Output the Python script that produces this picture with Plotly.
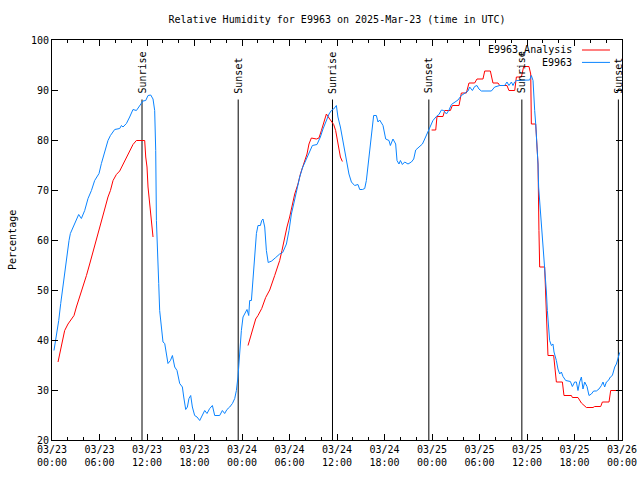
import pandas as pd
import plotly.graph_objects as go

# ---- data (hours after 2025-03-23 00:00 UTC, relative humidity %) ----
obs_hours = [0.25, 0.56, 0.85, 1.10, 1.31, 1.60, 1.89, 2.15, 2.32, 2.65, 3.08, 3.37, 3.71, 4.13, 4.55, 4.98,
             5.39, 5.94, 6.24, 6.66, 7.07, 7.38, 7.92, 8.55, 8.77, 8.97, 9.40, 9.81, 10.23, 10.66, 11.08,
             11.49, 11.84, 12.13, 12.47, 12.76, 12.97, 13.10, 13.19, 13.31, 13.48, 13.60, 13.82, 14.02,
             14.24, 14.45, 14.65, 14.96, 15.21, 15.50, 15.79, 16.13, 16.47, 16.64, 16.89, 17.10, 17.30,
             17.52, 17.73, 18.02, 18.32, 18.66, 19.00, 19.29, 19.58, 19.92, 20.26, 20.55, 21.18, 21.52,
             21.81, 22.10, 22.45, 22.79, 23.08, 23.29, 23.49, 23.62, 23.80, 23.92, 24.13, 24.47, 24.63,
             24.85, 24.97, 25.19, 25.39, 25.60, 25.82, 26.02, 26.32, 26.49, 26.65, 26.87, 27.08, 27.31,
             27.75, 28.26, 28.76, 29.14, 29.61, 29.94, 30.24, 30.53, 30.87, 31.29, 31.63, 32.05, 32.46,
             32.89, 33.47, 33.90, 34.23, 34.66, 34.99, 35.29, 35.58, 35.92, 36.12, 36.43, 36.68, 36.97,
             37.26, 37.51, 37.82, 38.23, 38.65, 38.87, 39.21, 39.50, 39.71, 40.04, 40.34, 40.63, 40.97,
             41.18, 41.39, 41.81, 42.15, 42.57, 42.74, 43.07, 43.41, 43.58, 43.83, 44.01, 44.26, 44.55,
             44.97, 45.40, 45.69, 45.94, 46.36, 46.79, 47.08, 47.37, 47.62, 47.84, 48.12, 48.55, 48.88,
             49.19, 49.48, 49.82, 50.15, 50.45, 50.87, 51.28, 51.71, 52.13, 52.55, 52.76, 53.10, 53.39,
             53.68, 53.93, 54.24, 55.50, 55.92, 56.55, 57.18, 57.47, 57.72, 58.03, 58.23, 58.44, 58.66,
             60.34, 60.55, 60.76, 60.84, 60.97, 61.10, 61.26, 61.39, 61.47, 61.69, 61.82, 62.02, 62.14,
             62.23, 62.36, 62.45, 62.57, 62.70, 62.86, 63.08, 63.28, 63.41, 63.71, 63.91, 64.13, 64.34,
             64.55, 64.89, 65.48, 65.73, 66.02, 66.24, 66.44, 66.65, 66.87, 67.07, 67.29, 67.58, 67.83,
             68.13, 68.42, 68.76, 69.09, 69.40, 69.60, 69.81, 70.03, 70.28, 70.53, 70.78, 71.08, 71.29,
             71.49, 71.71]
obs_rh = [37.9, 40.9, 43.9, 47.3, 49.8, 53.9, 56.3, 59.9, 61.3, 62.6, 63.9, 65.1, 64.3, 65.9, 68.3, 69.9,
          71.9, 73.3, 75.3, 77.6, 79.9, 80.9, 82.1, 82.3, 82.9, 82.6, 83.3, 84.6, 86.1, 85.9, 86.9,
          87.8, 87.9, 88.9, 89.0, 88.2, 85.9, 77.9, 63.9, 57.0, 51.3, 45.9, 41.9, 39.6,
          39.3, 37.3, 35.3, 35.9, 36.9, 34.6, 33.9, 31.3, 30.6, 28.6, 26.1, 26.6, 28.3,
          28.9, 26.6, 24.9, 24.6, 23.9, 24.9, 25.9, 25.3, 26.3, 26.9, 24.9, 24.9, 25.9,
          25.3, 26.1, 26.6, 27.3, 28.3, 29.9, 32.6, 35.9, 38.6, 41.9, 44.6, 45.6, 46.1,
          44.9, 47.9, 47.9, 52.6, 57.3, 61.3, 62.9, 62.9, 63.9, 64.2, 62.6, 57.9, 55.5,
          55.8, 56.5, 57.2, 57.5, 59.2, 61.9, 65.2, 67.2, 69.9, 72.6, 74.4, 75.9, 77.2,
          78.9, 79.1, 80.6, 82.2, 84.0, 85.2, 85.9, 86.2, 86.9, 84.6, 82.6, 80.6, 78.2,
          75.9, 73.2, 71.6, 70.9, 71.1, 70.1, 70.1, 70.3, 71.9, 76.6, 81.9, 84.9, 84.9,
          83.6, 84.0, 82.9, 80.2, 79.9, 78.9, 80.2, 79.2, 75.9, 75.2, 75.9, 75.1, 75.6,
          75.2, 75.6, 76.2, 78.0, 78.6, 79.2, 80.2, 81.2, 82.2, 82.6, 83.9, 84.7, 85.1,
          86.0, 85.9, 85.2, 86.0, 87.1, 87.6, 88.0, 88.9, 89.4, 89.8, 90.6, 89.9, 90.7,
          90.9, 90.2, 89.8, 89.8, 90.6, 90.9, 90.9, 91.6, 90.9, 91.6, 90.9, 91.6, 91.9,
          92.0, 92.9, 91.9, 88.6, 85.9, 83.2, 78.9, 75.2, 70.6, 65.9, 63.2, 60.6, 58.2,
          55.9, 52.6, 49.6, 45.9, 42.6, 39.9, 38.9, 39.2, 37.6, 35.9, 34.2, 33.2, 33.6,
          32.7, 31.9, 31.7, 30.7, 31.6, 31.6, 29.9, 31.6, 32.6, 30.2, 31.6, 30.7, 28.9,
          29.2, 29.8, 29.8, 30.2, 30.9, 31.6, 30.6, 31.6, 31.9, 32.6, 32.9, 34.6, 35.2,
          36.6, 37.5]

ana1_hours = [0.76, 0.97, 1.31, 1.60, 2.02, 2.45, 2.78, 3.08, 3.50, 3.92, 4.35, 4.76, 5.18, 5.61, 6.03,
              6.40, 6.66, 7.07, 7.38, 7.71, 8.13, 8.55, 8.97, 9.40, 9.81, 10.23, 10.66, 11.71, 11.84,
              12.00, 12.13, 12.34, 12.56, 12.76]
ana1_rh = [35.6, 37.3, 39.6, 41.9, 43.2, 44.2, 44.9, 46.6, 48.6, 50.9, 52.9, 55.2, 57.6, 59.9, 62.2,
           64.2, 66.2, 68.6, 69.9, 71.9, 73.1, 73.8, 75.2, 76.6, 77.9, 79.1, 79.9, 79.9, 76.6,
           74.6, 70.6, 67.2, 63.9, 60.6]
ana2_hours = [24.76, 25.06, 25.39, 25.73, 26.02, 26.49, 26.99, 27.50, 28.13, 28.76, 29.05, 29.39, 29.68,
              30.02, 30.37, 30.66, 31.07, 31.38, 31.79, 32.21, 32.46, 32.76, 33.40, 33.72, 34.03, 34.32,
              34.66, 34.99, 35.29, 35.58, 35.83, 36.00, 36.25, 36.43, 36.68]
ana2_rh = [38.9, 40.6, 42.6, 44.2, 44.9, 46.3, 48.5, 50.0, 52.9, 55.9, 57.9, 60.6, 62.6,
           64.6, 67.2, 69.2, 71.2, 73.2, 75.2, 77.2, 79.2, 80.4, 80.2, 80.4, 81.9, 83.6,
           85.2, 84.4, 83.8, 83.1, 81.9, 80.2, 77.9, 76.6, 75.7]
ana3_hours = [47.95, 48.47, 48.63, 49.39, 49.60, 50.32, 50.57, 51.41, 51.71, 52.34, 52.67, 53.39, 53.68,
              54.44, 54.66, 55.37, 55.70, 56.34, 56.55, 57.47, 57.72, 58.45, 58.66, 59.29, 59.58, 60.25,
              60.47, 60.55, 61.10, 61.39, 61.51, 61.60, 62.23, 62.57, 62.65, 63.37, 63.59, 63.71, 64.47,
              64.67, 65.61, 65.73, 66.44, 66.87, 67.50, 68.34, 68.55, 69.31, 69.52, 70.36, 70.57, 71.71]
ana3_rh = [82.0, 82.0, 84.7, 84.7, 85.9, 85.9, 86.9, 86.9, 89.4, 89.4, 91.4, 91.4, 92.2,
           92.2, 93.8, 93.8, 91.4, 91.4, 90.9, 90.9, 89.9, 89.9, 92.6, 92.6, 94.7, 94.7,
           93.2, 83.2, 83.2, 75.2, 61.9, 54.6, 54.6, 41.2, 36.9, 36.9, 32.9, 31.6, 31.6,
           28.9, 28.9, 28.5, 28.5, 27.4, 26.5, 26.5, 26.7, 26.7, 27.6, 27.6, 29.9, 29.9]

sun_events = ["Sunrise", "Sunset", "Sunrise", "Sunset", "Sunrise", "Sunset"]
sun_hours = [11.37, 23.52, 35.43, 47.60, 59.35, 71.54]
sun_line_top = 88.1

series_names = ["E9963\u2423Analysis", "E9963"]
series_colors = ["#ff0000", "#0a84ff"]

base = pd.Timestamp("2025-03-23 00:00")


def to_time(hours):
    return [base + pd.Timedelta(hours=h) if h is not None else None for h in hours]


ana_hours = ana1_hours + [None] + ana2_hours + [None] + ana3_hours
ana_rh = ana1_rh + [None] + ana2_rh + [None] + ana3_rh

FONT = "DejaVu Sans Mono"

fig = go.Figure()
fig.add_trace(go.Scatter(x=to_time(ana_hours), y=ana_rh, mode="lines", name=series_names[0],
                         line=dict(color=series_colors[0], width=1), connectgaps=False,
                         showlegend=False))
fig.add_trace(go.Scatter(x=to_time(obs_hours), y=obs_rh, mode="lines", name=series_names[1],
                         line=dict(color=series_colors[1], width=1), showlegend=False))

# sunrise / sunset markers
for ev, h in zip(sun_events, sun_hours):
    t = base + pd.Timedelta(hours=h)
    fig.add_shape(type="line", x0=t, x1=t, y0=20, y1=sun_line_top, xref="x", yref="y",
                  line=dict(color="black", width=1), layer="below")
    fig.add_annotation(x=t, y=sun_line_top, xref="x", yref="y", text=ev, textangle=-90,
                       showarrow=False, yanchor="bottom", xanchor="center", yshift=4,
                       font=dict(family=FONT, size=10, color="black"))

# gnuplot-style key (text left, sample right), top right
key_y = [0.975, 0.944]
for name, col, ky in zip(series_names, series_colors, key_y):
    fig.add_annotation(x=0.9158, y=ky, xref="paper", yref="paper", text=name, showarrow=False,
                       xanchor="right", yanchor="middle", font=dict(family=FONT, size=10, color="black"))
    fig.add_shape(type="line", x0=0.9298, x1=0.9789, y0=ky, y1=ky, xref="paper", yref="paper",
                  line=dict(color=col, width=1))

fig.add_annotation(x=0, y=0.5, xref="paper", yref="paper", text="Percentage", textangle=-90,
                   showarrow=False, xanchor="center", yanchor="middle", xshift=-40,
                   font=dict(family=FONT, size=10, color="black"))

fig.update_layout(
    width=640, height=480,
    margin=dict(l=52, r=18, t=40, b=40, pad=0, autoexpand=False),
    paper_bgcolor="white", plot_bgcolor="white",
    font=dict(family=FONT, size=10, color="black"),
    title=dict(text="Relative Humidity for E9963 on 2025-Mar-23 (time in UTC)",
               x=0.5, xref="paper", xanchor="center", y=1 - 19 / 480, yref="container",
               yanchor="middle", font=dict(family=FONT, size=10, color="black")),
    showlegend=False,
)
fig.update_xaxes(
    type="date", range=[base, base + pd.Timedelta(hours=72)], automargin=False,
    tick0=base, dtick=6 * 3600000, tickformat="%m/%d<br>%H:%M",
    ticks="inside", ticklen=6, tickcolor="black", tickwidth=1,
    minor=dict(ticks="inside", dtick=2 * 3600000, ticklen=3, tickcolor="black", showgrid=False),
    showline=True, linecolor="black", linewidth=1, mirror="allticks",
    showgrid=False, zeroline=False, tickfont=dict(family=FONT, size=10, color="black"),
)
fig.update_yaxes(
    range=[20, 100], tick0=20, dtick=10, automargin=False,
    ticks="inside", ticklen=6, tickcolor="black", tickwidth=1,
    showline=True, linecolor="black", linewidth=1, mirror="allticks",
    showgrid=False, zeroline=False, tickfont=dict(family=FONT, size=10, color="black"),
)

# remove the page's default body margin so the 640x480 figure fills the window exactly
fig.write_html("out.html", config={"displayModeBar": False},
               post_script="document.body.style.margin='0';document.body.style.overflow='hidden';")
